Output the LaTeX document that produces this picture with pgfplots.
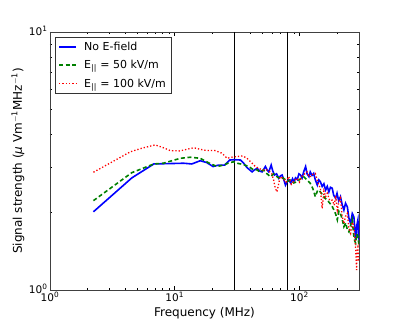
\documentclass[border=0pt]{standalone}
\usepackage{fontspec}
\setmainfont{DejaVu Sans}
\usepackage{pgfplots}
\pgfplotsset{compat=1.18}
\definecolor{mplgreen}{rgb}{0,0.5,0}

\begin{document}
\begin{tikzpicture}
% page = 399 x 323, axis box 309 x 258 placed at the origin
\useasboundingbox (-50pt,-33pt) rectangle (349pt,290pt);
\begin{axis}[
  scale only axis,
  width=309pt, height=258pt,
  xmode=log, ymode=log,
  xmin=1, xmax=300, ymin=1, ymax=10,
  xtick={1,10,100},
  xticklabels={10\textsuperscript{0},10\textsuperscript{1},10\textsuperscript{2}},
  ytick={1,10},
  yticklabels={10\textsuperscript{0},10\textsuperscript{1}},
  minor xtick={2,3,4,5,6,7,8,9,20,30,40,50,60,70,80,90,200,300},
  minor ytick={2,3,4,5,6,7,8,9},
  tick align=inside,
  major tick length=4pt, minor tick length=2pt,
  axis line style={black!75, line width=0.6pt},
  tick style={black, line width=0.5pt},
  xlabel={Frequency (MHz)},
  ylabel={Signal strength (\textit{μ} Vm\textsuperscript{$-$1}MHz\textsuperscript{$-$1})},
  label style={font=\fontsize{12}{14}\selectfont},
  tick label style={font=\fontsize{10.5}{12}\selectfont},
  xticklabel style={yshift=1pt},
  yticklabel style={xshift=1pt, yshift=1.5pt},
  xlabel style={at={(axis description cs:0.5,-0.089)}, anchor=center},
  ylabel style={at={(axis description cs:-0.1036,0.5)}, anchor=center},
  legend style={at={(axis description cs:0.016,0.981)}, anchor=north west,
                font=\fontsize{11}{13}\selectfont, draw=black!80,
                inner sep=3pt, row sep=4.5pt},
  legend cell align=left,
]
\addplot[black, line width=1.3pt, forget plot] coordinates {(30,1) (30,10)};
\addplot[black, line width=1.3pt, forget plot] coordinates {(80,1) (80,10)};

\addplot[blue, line width=1.6pt,
         legend image post style={blue, line width=2pt}] coordinates {
  (2.23,2.01) (4.53,2.72) (6.8,3.08) (11.8,3.10) (13.7,3.08) (16,3.17) (18,3.12)
  (20.3,3.01) (22.5,3.05) (25.1,3.05) (27.6,3.19) (30,3.2) (33.6,3.19) (35.7,3.10)
  (38,2.98) (41.7,2.87) (43.5,2.92) (45.7,2.96) (48,2.89) (50.2,2.87) (53.3,3.01)
  (55,2.92) (56.7,2.87) (59.3,3.05) (61,2.9) (63,2.79) (65.5,2.82) (68.2,2.71)
  (70.5,2.77) (72.6,2.79) (75,2.67) (77.2,2.55) (80,2.64) (82.1,2.67) (85,2.6)
  (88,2.7) (90,2.63) (93,2.72) (96,2.68) (99,2.82) (102,2.79) (105,2.72) (108,2.87)
  (112,3.01) (115,2.82) (119,2.75) (122,2.87) (126,2.78) (130,2.83) (134,2.67)
  (139,2.55) (143,2.67) (147,2.63) (152,2.52) (157,2.58) (162,2.44) (167,2.52)
  (172,2.4) (177,2.5) (183,2.48) (188,2.33) (195,2.27) (200,2.37) (206,2.22)
  (213,2.30) (220,2.14) (227,2.04) (234,2.17) (242,2.10) (249,1.9) (257,1.81)
  (265,1.98) (273,1.92) (278,1.72) (282,1.56) (288,1.78) (294,1.87) (298,1.62)
  (301,1.66)
};
\addlegendentry{\hspace{5pt}No E-field}

\addplot[mplgreen, line width=1.6pt, dash pattern=on 4pt off 2.6pt,
         legend image post style={mplgreen, line width=1.8pt}] coordinates {
  (2.23,2.22) (4.53,2.85) (6.8,3.08) (8.1,3.10) (11.1,3.24) (13.3,3.27) (16,3.24)
  (18.7,3.11) (21.8,3.01) (24.7,3.05) (27.1,3.11) (29.7,3.14) (31.6,3.10) (35,3.07)
  (39.2,3.01) (42,2.94) (45.7,2.92) (48,2.87) (51.5,2.92) (55,2.82) (58.4,2.75)
  (62,2.82) (66,2.75) (70,2.7) (74,2.72) (79.7,2.63) (84,2.67) (90,2.6) (95.8,2.63)
  (102,2.7) (108,2.75) (115,2.67) (122,2.59) (128,2.47) (134,2.30) (140,2.44)
  (147,2.40) (155,2.32) (160,2.27) (167,2.23) (175,2.17) (182,2.12) (189,2.04)
  (195,1.97) (201,1.87) (207,2.02) (213,1.98) (220,1.88) (227,1.76) (235,1.82)
  (242,1.71) (249,1.68) (257,1.78) (265,1.87) (272,1.63) (277,1.55) (282,1.52)
  (288,1.65) (294,1.61) (298,1.53) (301,1.47)
};
\addlegendentry{\hspace{5pt}E\textsubscript{||} = 50 kV/m}

\addplot[red, line width=1.3pt, dash pattern=on 1.3pt off 2pt,
         legend image post style={red, line width=1.3pt}] coordinates {
  (2.23,2.86) (3.2,3.15) (4.39,3.43) (5.5,3.55) (6.97,3.65) (8,3.57) (9.2,3.47)
  (11,3.46) (14.2,3.56) (16,3.51) (18.1,3.47) (21.1,3.47) (23.9,3.39) (26.3,3.24)
  (28.5,3.27) (31.6,3.29) (35,3.31) (38,3.24) (41.7,3.10) (44,3.02) (47.1,2.96)
  (51,2.92) (55,2.92) (58,2.87) (60,2.82) (62,2.67) (64,2.48) (66,2.40) (68,2.57)
  (70,2.75) (74,2.7) (78,2.62) (82,2.75) (86,2.57) (90,2.64) (96,2.71) (100,2.62)
  (105,2.77) (110,2.82) (115,2.87) (120,2.74) (127,2.8) (134,2.83) (140,2.62)
  (147,2.48) (152,2.07) (157,2.42) (162,2.30) (167,2.37) (175,2.22) (183,2.23)
  (190,2.13) (195,2.32) (201,2.04) (207,2.2) (213,2.27) (220,1.93) (227,1.81)
  (234,1.93) (242,1.98) (249,1.73) (257,1.66) (265,1.83) (273,1.76) (280,1.54)
  (287,1.195) (290,1.44) (294,1.47) (298,1.29) (301,1.35)
};
\addlegendentry{\hspace{5pt}E\textsubscript{||} = 100 kV/m}
\end{axis}
\end{tikzpicture}
\end{document}
